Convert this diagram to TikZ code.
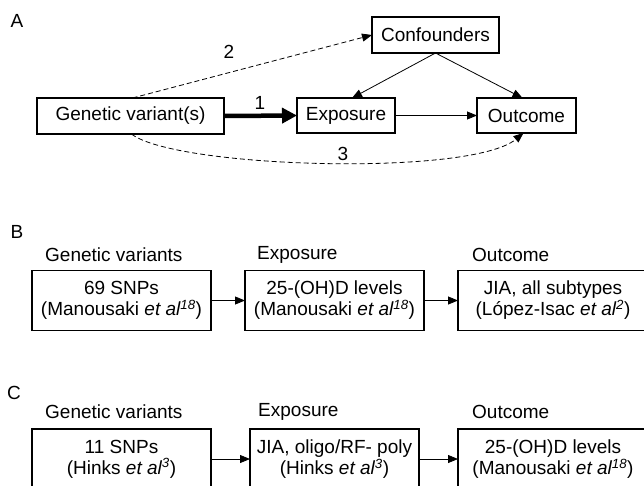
\documentclass[tikz,border=0pt]{standalone}
\usepackage{fontspec}
\setmainfont{Liberation Sans}
\usetikzlibrary{arrows.meta,calc}
\newcommand\myetal[1]{\textit{et al\textsuperscript{#1}}}
\begin{document}
\begin{tikzpicture}[x=1pt,y=-1pt,
  txt/.style={font=\fontsize{19}{21}\selectfont},
  box/.style={txt,draw,line width=1.1pt,inner sep=0pt,outer sep=0pt,align=center},
  lbl/.style={txt,inner sep=0pt},
  hdr/.style={txt,inner sep=0pt,anchor=west},
  arr/.style={line width=0.8pt,-{Triangle[length=10pt,width=8pt]}},
  thick arr/.style={line width=4.5pt,-{Triangle[length=15pt,width=15pt]}},
  dash arr/.style={line width=0.8pt,dash pattern=on 5pt off 3pt,-{Triangle[length=10pt,width=8pt]}}]
\clip (0,0) rectangle (644,485);
\fill[white] (0,0) rectangle (644,485);

% ---------- Panel A ----------
\node[lbl] (la) at (17,21) {A};
\node[box,minimum width=187pt,minimum height=36pt] (gen) at (130.5,116) {Genetic variant(s)};
\node[box,minimum width=127pt,minimum height=36pt] (conf) at (435.5,35) {Confounders};
\node[box,minimum width=98pt,minimum height=35pt] (expo) at (346,115.5) {Exposure};
\node[box,minimum width=99pt,minimum height=35pt] (outc) at (526.5,115.5) {Outcome};

\draw[thick arr] (gen.east) -- (expo.west);
\node[lbl] (n1) at (260,103) {1};
\draw[dash arr] ($(gen.north)+(2,0)$) -- (conf.west);
\node[lbl] (n2) at (229,52) {2};
\draw[arr] (conf.south) -- ($(expo.north)+(6,0)$);
\draw[arr] (conf.south) -- ($(outc.north)+(-4,0)$);
\draw[arr] (expo.east) -- (outc.west);
\draw[dash arr] ($(gen.south)+(1,0)$) .. controls (175,168) and (470,177) .. ($(outc.south)+(-3,0)$);
\node[lbl] (n3) at (343,154) {3};

% ---------- Panel B ----------
\node[lbl] (lb) at (17,232) {B};
\node[hdr] (hb1) at (45,255) {Genetic variants};
\node[hdr] (hb2) at (257,255) {Exposure};
\node[hdr] (hb3) at (472,255) {Outcome};
\node[box,minimum width=179pt,minimum height=60pt] (b1) at (121.5,300.5) {69 SNPs\\(Manousaki \myetal{18})};
\node[box,minimum width=179pt,minimum height=60pt] (b2) at (334.5,300.5) {25-(OH)D levels\\(Manousaki \myetal{18})};
\node[box,minimum width=190pt,minimum height=60pt] (b3) at (553,300.5) {JIA, all subtypes\\(López-Isac \myetal{2})};
\draw[arr] (b1.east) -- (b2.west);
\draw[arr] (b2.east) -- (b3.west);

% ---------- Panel C ----------
\node[lbl] (lc) at (14,393) {C};
\node[hdr] (hc1) at (45,412) {Genetic variants};
\node[hdr] (hc2) at (258,412) {Exposure};
\node[hdr] (hc3) at (472,412) {Outcome};
\node[box,minimum width=179pt,minimum height=60pt] (c1) at (121.5,459) {11 SNPs\\(Hinks \myetal{3})};
\node[box,minimum width=169pt,minimum height=60pt] (c2) at (334.5,459) {JIA, oligo/RF- poly\\(Hinks \myetal{3})};
\node[box,minimum width=190pt,minimum height=60pt] (c3) at (553,459) {25-(OH)D levels\\(Manousaki \myetal{18})};
\draw[arr] (c1.east) -- (c2.west);
\draw[arr] (c2.east) -- (c3.west);
\end{tikzpicture}
\end{document}
